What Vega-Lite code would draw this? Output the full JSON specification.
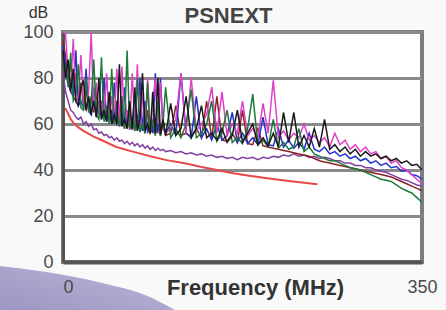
{
  "$schema": "https://vega.github.io/schema/vega-lite/v6.json",
  "width": 359,
  "height": 230,
  "autosize": {"type": "none"},
  "padding": {"left": 63, "top": 32, "right": 24, "bottom": 48},
  "background": "#f9f9f9",
  "config": {
    "view": {"stroke": "#7d7d7d", "strokeWidth": 4, "fill": "#ffffff"},
    "font": "Liberation Sans"
  },
  "title": {"text": "PSNEXT", "fontSize": 22, "fontWeight": "bold", "color": "#444444", "font": "Liberation Sans", "anchor": "middle", "dx": -14, "offset": -24},
  "datasets": {
    "decor": [
      {"f": -66, "v": -1.5, "v2": -23},
      {"f": -12.7, "v": -4.6, "v2": -23},
      {"f": 36.1, "v": -8.9, "v2": -23},
      {"f": 84.8, "v": -15.2, "v2": -23},
      {"f": 109.2, "v": -20.9, "v2": -23}
    ],
    "limit": [
      {"f": 2, "v": 67}, {"f": 4, "v": 65.5}, {"f": 7, "v": 62.5}, {"f": 10, "v": 60.5},
      {"f": 15, "v": 58.5}, {"f": 20, "v": 57}, {"f": 30, "v": 54.5}, {"f": 40, "v": 52.5},
      {"f": 52, "v": 50}, {"f": 68, "v": 48}, {"f": 85, "v": 46}, {"f": 101, "v": 44.3},
      {"f": 120, "v": 42.8}, {"f": 134, "v": 41.4}, {"f": 150, "v": 40}, {"f": 166, "v": 38.6},
      {"f": 180, "v": 37.6}, {"f": 199, "v": 36.4}, {"f": 220, "v": 35.2}, {"f": 248, "v": 33.8}
    ],
    "main": [
      {"f": 0, "k": 92, "g": 88, "b": 94, "m": 100, "n": 96, "p": 82},
      {"f": 2.5, "k": 80, "g": 84, "b": 86, "m": 99, "n": 90, "p": 74},
      {"f": 5, "k": 88, "g": 76, "b": 78, "m": 82, "n": 80, "p": 70},
      {"f": 7.5, "k": 74, "g": 91, "b": 74, "m": 76, "n": 86, "p": 66},
      {"f": 10, "k": 84, "g": 70, "b": 72, "m": 97, "n": 72, "p": 65},
      {"f": 12.5, "k": 70, "g": 72, "b": 92, "m": 70, "n": 82, "p": 63},
      {"f": 15, "k": 68, "g": 86, "b": 68, "m": 72, "n": 70, "p": 62},
      {"f": 17.5, "k": 76, "g": 67, "b": 70, "m": 90, "n": 78, "p": 63},
      {"f": 20, "k": 79, "g": 66, "b": 67, "m": 68, "n": 68, "p": 60},
      {"f": 22.5, "k": 66, "g": 80, "b": 84, "m": 66, "n": 76, "p": 61},
      {"f": 25, "k": 72, "g": 65, "b": 66, "m": 74, "n": 66, "p": 59},
      {"f": 27.5, "k": 64, "g": 70, "b": 64, "m": 100, "n": 72, "p": 60},
      {"f": 30, "k": 70, "g": 88, "b": 76, "m": 66, "n": 65, "p": 57.5},
      {"f": 32.5, "k": 63, "g": 64, "b": 63, "m": 78, "n": 74, "p": 58},
      {"f": 35, "k": 80, "g": 62, "b": 70, "m": 64, "n": 64, "p": 56},
      {"f": 37.5, "k": 62, "g": 89, "b": 62, "m": 70, "n": 70, "p": 56.5},
      {"f": 40, "k": 66, "g": 61, "b": 80, "m": 63, "n": 62, "p": 55},
      {"f": 42.5, "k": 61, "g": 68, "b": 61, "m": 82, "n": 68, "p": 55.5},
      {"f": 45, "k": 74, "g": 60, "b": 66, "m": 62, "n": 61, "p": 54},
      {"f": 47.5, "k": 60, "g": 84, "b": 60, "m": 72, "n": 66, "p": 54.5},
      {"f": 50, "k": 64, "g": 60, "b": 78, "m": 61, "n": 60, "p": 53},
      {"f": 52.5, "k": 60, "g": 64, "b": 60, "m": 84, "n": 70, "p": 54},
      {"f": 55, "k": 86, "g": 59, "b": 62, "m": 60, "n": 59, "p": 52.5},
      {"f": 57.5, "k": 59, "g": 72, "b": 59, "m": 85, "n": 64, "p": 53},
      {"f": 60, "k": 62, "g": 58, "b": 76, "m": 59, "n": 58, "p": 51.5},
      {"f": 62.5, "k": 58, "g": 92, "b": 58, "m": 66, "n": 66, "p": 52.5},
      {"f": 65, "k": 70, "g": 58, "b": 64, "m": 58, "n": 57.5, "p": 51},
      {"f": 67.5, "k": 58, "g": 62, "b": 57.5, "m": 82, "n": 62, "p": 52},
      {"f": 70, "k": 76, "g": 57, "b": 72, "m": 60, "n": 57, "p": 50.5},
      {"f": 72.5, "k": 57, "g": 80, "b": 57, "m": 86, "n": 64, "p": 51.5},
      {"f": 75, "k": 62, "g": 56.5, "b": 80, "m": 58, "n": 56.5, "p": 50},
      {"f": 77.5, "k": 82, "g": 60, "b": 57, "m": 74, "n": 60, "p": 51},
      {"f": 80, "k": 57, "g": 56, "b": 70, "m": 57, "n": 56, "p": 49.5},
      {"f": 82.5, "k": 60, "g": 78, "b": 56, "m": 80, "n": 66, "p": 50.5},
      {"f": 85, "k": 56, "g": 56, "b": 62, "m": 57, "n": 56, "p": 49},
      {"f": 87.5, "k": 74, "g": 62, "b": 56, "m": 68, "n": 58, "p": 50},
      {"f": 90, "k": 56, "g": 55, "b": 82, "m": 80, "n": 55.5, "p": 48.5},
      {"f": 92.5, "k": 80, "g": 70, "b": 56, "m": 60, "n": 60, "p": 49.5},
      {"f": 95, "k": 55.5, "g": 55, "b": 80, "m": 78, "n": 55, "p": 48.5},
      {"f": 97.5, "k": 62, "g": 60, "b": 58, "m": 58, "n": 62, "p": 49},
      {"f": 100, "k": 55, "g": 76, "b": 56, "m": 56, "n": 55, "p": 48},
      {"f": 105, "k": 69, "g": 54, "b": 60, "m": 58, "n": 56, "p": 48.5},
      {"f": 110, "k": 55, "g": 58, "b": 55, "m": 62, "n": 68, "p": 47.5},
      {"f": 115, "k": 58, "g": 54, "b": 82, "m": 82, "n": 55, "p": 48},
      {"f": 120, "k": 72, "g": 60, "b": 56, "m": 56, "n": 56, "p": 47},
      {"f": 125, "k": 54, "g": 75, "b": 54, "m": 80, "n": 54.5, "p": 47.5},
      {"f": 130, "k": 58, "g": 54, "b": 72, "m": 57, "n": 58, "p": 46.5},
      {"f": 135, "k": 68, "g": 56, "b": 54, "m": 60, "n": 54, "p": 47},
      {"f": 140, "k": 54, "g": 60, "b": 58, "m": 64, "n": 70, "p": 46},
      {"f": 145, "k": 56, "g": 70, "b": 53, "m": 76, "n": 53.5, "p": 46.5},
      {"f": 150, "k": 53, "g": 52.5, "b": 60, "m": 56, "n": 72, "p": 45.5},
      {"f": 155, "k": 58, "g": 56, "b": 53, "m": 74, "n": 53, "p": 46},
      {"f": 160, "k": 52, "g": 66, "b": 55, "m": 55, "n": 52.5, "p": 45},
      {"f": 165, "k": 55, "g": 52, "b": 65, "m": 60, "n": 56, "p": 45.5},
      {"f": 170, "k": 66, "g": 54, "b": 52, "m": 56, "n": 52, "p": 44.5},
      {"f": 175, "k": 52, "g": 51.5, "b": 56, "m": 70, "n": 66, "p": 45.5},
      {"f": 180, "k": 56, "g": 58, "b": 51.5, "m": 55, "n": 51.5, "p": 45},
      {"f": 185, "k": 60, "g": 73, "b": 54, "m": 58, "n": 51, "p": 45.5},
      {"f": 190, "k": 51, "g": 51, "b": 51, "m": 54, "n": 58, "p": 44.5},
      {"f": 195, "k": 54, "g": 53, "b": 63, "m": 69, "n": 50.5, "p": 45.5},
      {"f": 200, "k": 50.5, "g": 50, "b": 51, "m": 56, "n": 50, "p": 45},
      {"f": 205, "k": 56, "g": 62, "b": 50.5, "m": 79, "n": 49.5, "p": 46},
      {"f": 210, "k": 50, "g": 49.5, "b": 58, "m": 54, "n": 49, "p": 45.5},
      {"f": 215, "k": 65, "g": 52, "b": 50, "m": 57, "n": 48.5, "p": 46.5},
      {"f": 220, "k": 52, "g": 49, "b": 53, "m": 53, "n": 48, "p": 46},
      {"f": 225, "k": 65, "g": 50, "b": 49.5, "m": 56, "n": 47.5, "p": 47},
      {"f": 230, "k": 50, "g": 58, "b": 52, "m": 54, "n": 47, "p": 46},
      {"f": 235, "k": 55, "g": 48, "b": 49, "m": 60, "n": 46.5, "p": 46.5},
      {"f": 240, "k": 50, "g": 50, "b": 56, "m": 53, "n": 46, "p": 45.5},
      {"f": 245, "k": 58, "g": 47, "b": 49, "m": 55, "n": 45, "p": 46},
      {"f": 250, "k": 50, "g": 46, "b": 48, "m": 52, "n": 44, "p": 45},
      {"f": 255, "k": 62, "g": 45, "b": 50, "m": 54, "n": 43.5, "p": 45.5},
      {"f": 260, "k": 49, "g": 44, "b": 47, "m": 50, "n": 43, "p": 45},
      {"f": 265, "k": 51, "g": 44, "b": 48, "m": 56, "n": 42.5, "p": 44},
      {"f": 270, "k": 48, "g": 43, "b": 46, "m": 51, "n": 42, "p": 44},
      {"f": 275, "k": 50, "g": 42, "b": 47, "m": 53, "n": 41.5, "p": 43},
      {"f": 280, "k": 47, "g": 41, "b": 45, "m": 49, "n": 41, "p": 43},
      {"f": 285, "k": 49, "g": 40.5, "b": 46, "m": 51, "n": 40.5, "p": 42},
      {"f": 290, "k": 46, "g": 40, "b": 44, "m": 48, "n": 40, "p": 42},
      {"f": 295, "k": 48, "g": 39, "b": 45, "m": 50, "n": 39.5, "p": 41},
      {"f": 300, "k": 46, "g": 38, "b": 43, "m": 47, "n": 39, "p": 41},
      {"f": 305, "k": 47, "g": 37, "b": 44, "m": 48, "n": 38.5, "p": 40},
      {"f": 310, "k": 45, "g": 36, "b": 42, "m": 45, "n": 38, "p": 39.5},
      {"f": 315, "k": 46, "g": 35.5, "b": 43, "m": 46, "n": 37.5, "p": 39},
      {"f": 320, "k": 44, "g": 35, "b": 41, "m": 43, "n": 37, "p": 38},
      {"f": 325, "k": 45, "g": 33.5, "b": 41.5, "m": 44, "n": 36, "p": 37},
      {"f": 330, "k": 43, "g": 32, "b": 39.5, "m": 41, "n": 35, "p": 36},
      {"f": 335, "k": 44, "g": 31, "b": 40, "m": 40, "n": 34, "p": 35.5},
      {"f": 340, "k": 42, "g": 30, "b": 38, "m": 38, "n": 33, "p": 34.5},
      {"f": 345, "k": 42.5, "g": 28, "b": 37.5, "m": 36, "n": 32, "p": 33.5},
      {"f": 350, "k": 40, "g": 26, "b": 36, "m": 34, "n": 31, "p": 33}
    ]
  },
  "encoding": {
    "x": {
      "field": "f", "type": "quantitative",
      "scale": {"domain": [0, 350], "nice": false, "zero": false},
      "axis": {
        "values": [0, 350], "title": "Frequency (MHz)", "grid": false, "ticks": false,
        "domainColor": "#555555", "domainWidth": 4,
        "labelFontSize": 18, "labelColor": "#4a4a4a", "labelPadding": 16,
        "labelAlign": {"expr": "datum.value == 0 ? 'left' : 'center'"},
        "labelFont": "Liberation Sans", "titleFont": "Liberation Sans",
        "titleFontSize": 22, "titleFontWeight": "bold", "titleColor": "#333333",
        "titleX": 192, "titleY": 25, "titleBaseline": "middle", "titleAlign": "center",
        "zindex": 1
      }
    },
    "y": {
      "field": "v", "type": "quantitative",
      "scale": {"domain": [0, 100], "nice": false, "zero": false},
      "axis": {
        "values": [0, 20, 40, 60, 80, 100], "grid": true, "gridColor": "#8a8a8a", "gridWidth": 3,
        "ticks": false, "domainColor": "#555555", "domainWidth": 3,
        "labelFontSize": 18, "labelColor": "#4a4a4a", "labelPadding": 10, "labelFont": "Liberation Sans",
        "title": "dB", "titleAngle": 0, "titleX": -25, "titleY": -20,
        "titleAlign": "center", "titleBaseline": "middle", "titleFontSize": 16,
        "titleFontWeight": "normal", "titleColor": "#333333", "titleFont": "Liberation Sans"
      }
    }
  },
  "layer": [
    {
      "data": {"name": "decor"},
      "mark": {
        "type": "area", "clip": false, "interpolate": "monotone",
        "fill": {"gradient": "linear", "x1": 0, "y1": 1, "x2": 1, "y2": 0,
          "stops": [{"offset": 0, "color": "#9a94c0"}, {"offset": 1, "color": "#bcb7d8"}]}
      },
      "encoding": {"y2": {"field": "v2"}}
    },
    {
      "data": {"name": "main"},
      "transform": [{"fold": ["p", "n", "b", "m", "g", "k"], "as": ["s", "v"]}],
      "mark": {"type": "line", "strokeWidth": 1.5},
      "encoding": {
        "color": {
          "field": "s", "type": "nominal", "legend": null,
          "scale": {"domain": ["p", "n", "b", "m", "g", "k"],
            "range": ["#8040a0", "#8c2424", "#2233cc", "#e040c8", "#1f7a3a", "#1a1a1a"]}
        }
      }
    },
    {
      "data": {"name": "limit"},
      "mark": {"type": "line", "color": "#e84848", "strokeWidth": 2},
      "encoding": {}
    }
  ]
}
